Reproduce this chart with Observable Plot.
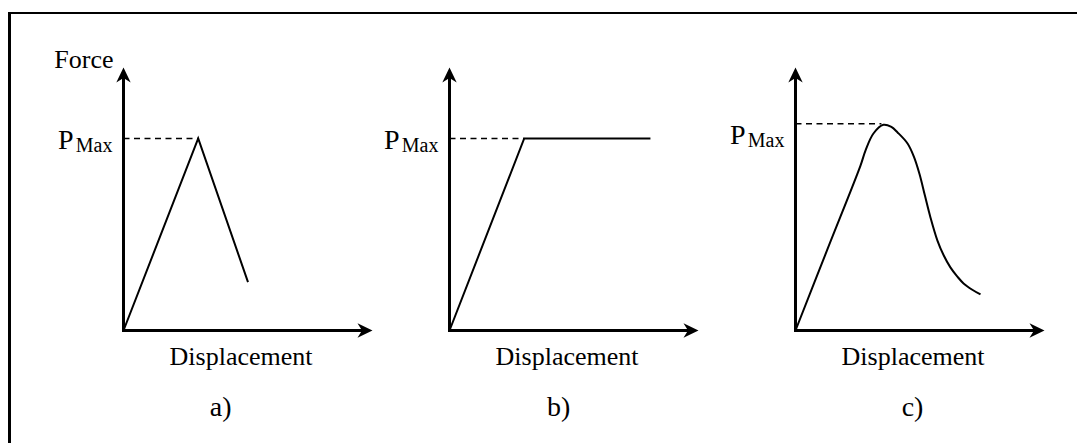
<!DOCTYPE html>
<html>
<head>
<meta charset="utf-8">
<script src="https://cdn.jsdelivr.net/npm/d3@7"></script>
<script src="https://cdn.jsdelivr.net/npm/@observablehq/plot@0.6"></script>
<style>
  html, body { margin: 0; padding: 0; background: #fff; }
  #sheet { position: relative; width: 1077px; height: 443px; overflow: hidden; }
  #frame { position: absolute; left: 8px; top: 12px; right: -10px; bottom: -10px;
           border-top: 2.5px solid #000; border-left: 3px solid #000; }
  #sheet svg { position: absolute; top: 0; }
  #sheet svg text { font-family: "Liberation Serif", "Times New Roman", Times, serif; }
</style>
</head>
<body>
<div id="sheet"><div id="frame"></div></div>
<script>
// Idealised force–displacement responses, in arbitrary units
// (displacement 0–10 along the x axis, force 0–10 along the y axis).
const panelLabels = ["a)", "b)", "c)"];
const xLabel = "Displacement";
const yLabel = "Force";
const peakSymbol = "P";
const peakSubscript = "Max";

// a) brittle: linear rise to the peak, then a straight drop
const brittleDisp  = [0, 3.0, 5.0];
const brittleForce = [0, 7.3, 1.84];

// b) ductile: linear rise, then a plateau at the peak force
const ductileDisp  = [0, 3.0, 8.07];
const ductileForce = [0, 7.3, 7.3];

// c) softening: linear rise, rounded peak, gradual decay
const softDisp  = [0, 1.3, 2.61, 2.81, 3.13, 3.53, 3.85, 4.10, 4.50, 4.75, 4.98, 5.20, 5.42, 5.70, 5.95, 6.22, 6.50, 6.75, 7.10, 7.43];
const softForce = [0, 3.13, 6.27, 6.84, 7.49, 7.82, 7.74, 7.53, 7.11, 6.62, 5.95, 5.12, 4.30, 3.42, 2.86, 2.40, 2.05, 1.79, 1.55, 1.37];

// peak force level (dashed guide) and where the guide meets the curve
const peakForce = [7.3, 7.3, 7.86];
const peakDisp  = [3.0, 3.0, 3.45];

// axis extent, in data units
const axisMax = 10;

const series = [
  {disp: brittleDisp, force: brittleForce, curve: "linear"},
  {disp: ductileDisp, force: ductileForce, curve: "linear"},
  {disp: softDisp,    force: softForce,    curve: "catmull-rom"}
];

// page layout of the three panels
const layout = {
  originX: [123, 449, 795],   // px position of each panel's y axis
  axisTop: 67, axisBottom: 330, axisLength: 249, height: 443,
  padLeft: 78, padRight: 10,
  peakLabelDy: [10, 10, 20],
  captionX: [3.9, 4.38, 4.7]
};

const serif = '"Liberation Serif", "Times New Roman", Times, serif';

// filled, notched arrowhead with its tip at the anchor point, pointing up
const arrowHead = {
  draw(ctx, size) {
    const s = Math.sqrt(size / Math.PI);
    ctx.moveTo(0, 0);
    ctx.lineTo(0.48 * s, s);
    ctx.lineTo(0, 0.7 * s);
    ctx.lineTo(-0.48 * s, s);
    ctx.closePath();
  }
};

const sheet = document.getElementById("sheet");

series.forEach((s, i) => {
  const stop = axisMax - 0.4;
  const axes = [
    {x1: 0, y1: 0, x2: stop, y2: 0},
    {x1: 0, y1: 0, x2: 0, y2: stop}
  ];
  const heads = [
    {x: axisMax, y: 0, rot: 90},
    {x: 0, y: axisMax, rot: 0}
  ];
  const curve = s.disp.map((d, j) => ({d, f: s.force[j]}));
  const guide = [{x1: 0, y1: peakForce[i], x2: peakDisp[i], y2: peakForce[i]}];
  const pdy = layout.peakLabelDy[i];
  const txt = {x: "x", y: "y", text: "t", fontFamily: serif, fill: "black", lineAnchor: "bottom"};

  const marks = [
    Plot.link(axes, {x1: "x1", y1: "y1", x2: "x2", y2: "y2",
      stroke: "black", strokeWidth: 3, strokeLinecap: "square"}),
    Plot.dot(heads, {x: "x", y: "y", rotate: "rot", symbol: arrowHead, r: 15,
      fill: "black", stroke: "none"}),
    Plot.link(guide, {x1: "x1", y1: "y1", x2: "x2", y2: "y2",
      stroke: "black", strokeWidth: 1.6, strokeDasharray: "6,4.5"}),
    Plot.line(curve, {x: "d", y: "f", curve: s.curve, stroke: "black",
      strokeWidth: 2, strokeLinejoin: "miter", strokeMiterlimit: 10, strokeLinecap: "butt"}),
    Plot.text([{x: 0, y: peakForce[i], t: peakSymbol}], {...txt,
      textAnchor: "end", dx: -50, dy: pdy, fontSize: 28}),
    Plot.text([{x: 0, y: peakForce[i], t: peakSubscript}], {...txt,
      textAnchor: "end", dx: -11, dy: pdy + 3, fontSize: 20}),
    Plot.text([{x: 4.72, y: 0, t: xLabel}], {...txt,
      textAnchor: "middle", dy: 34, fontSize: 26}),
    Plot.text([{x: layout.captionX[i], y: 0, t: panelLabels[i]}], {...txt,
      textAnchor: "middle", dy: 85, fontSize: 28})
  ];
  if (i === 0) {
    marks.push(Plot.text([{x: 0, y: axisMax, t: yLabel}], {...txt,
      textAnchor: "end", dx: -10, dy: 0, fontSize: 26}));
  }

  const svg = Plot.plot({
    width: layout.padLeft + layout.axisLength + layout.padRight,
    height: layout.height,
    marginLeft: layout.padLeft,
    marginRight: layout.padRight,
    marginTop: layout.axisTop,
    marginBottom: layout.height - layout.axisBottom,
    x: {domain: [0, axisMax], axis: null},
    y: {domain: [0, axisMax], axis: null},
    style: {background: "transparent", overflow: "visible", fontFamily: serif, color: "black"},
    marks
  });
  svg.style.left = (layout.originX[i] - layout.padLeft) + "px";
  sheet.appendChild(svg);
});
</script>
</body>
</html>
